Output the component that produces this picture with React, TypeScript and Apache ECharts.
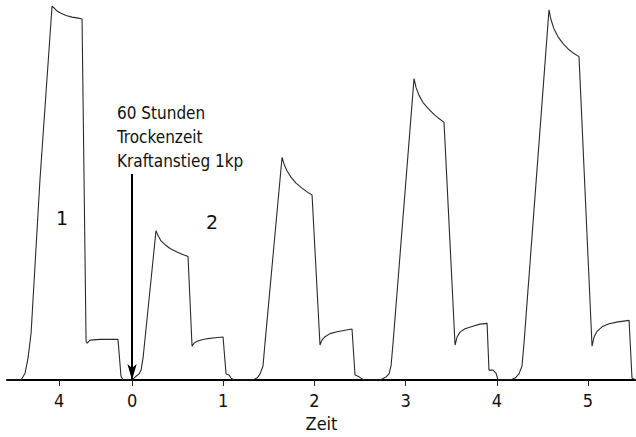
import React, { useEffect, useRef } from "react";
import * as echarts from "echarts";

// Trace of the force curve (x = Zeit in axis units, y = force, 0..100 relative)
const traceX = [
  -1.371, -1.217, -1.173, -1.14, -1.107, -1.009, -0.877, -0.855, -0.822, -0.779, -0.724, -0.658, -0.603, -0.548, -0.504, -0.493, -0.461, -0.351, -0.154, -0.121, -0.099, 0,
  0.022, 0.044, 0.077, 0.099, 0.121, 0.263, 0.285, 0.318, 0.362, 0.417, 0.482, 0.548, 0.614, 0.658, 0.68, 0.713, 0.768, 0.833, 0.91, 0.998, 1.031, 1.064, 1.086, 1.118, 1.316,
  1.371, 1.404, 1.436, 1.458, 1.645, 1.667, 1.7, 1.743, 1.798, 1.864, 1.919, 1.974, 2.061, 2.083, 2.116, 2.171, 2.248, 2.336, 2.412, 2.445, 2.478, 2.511, 2.544, 2.719,
  2.785, 2.818, 2.84, 2.862, 3.092, 3.114, 3.147, 3.191, 3.246, 3.311, 3.366, 3.421, 3.542, 3.564, 3.596, 3.651, 3.728, 3.816, 3.893, 3.914, 3.958, 3.991, 4.013, 4.145,
  4.2, 4.243, 4.276, 4.298, 4.572, 4.594, 4.627, 4.671, 4.726, 4.792, 4.846, 4.901, 5.044, 5.066, 5.099, 5.154, 5.23, 5.329, 5.45, 5.482, 5.526,
];
const traceY = [
  0, 0, 1.8, 5.8, 12.3, 52.9, 98.4, 97.9, 97.1, 96.5, 95.9, 95.5, 95.3, 95.0, 10.2, 9.7, 10.5, 10.7, 10.7, 1.0, 0, 0,
  0.5, 1.0, 1.6, 2.6, 5.8, 39.3, 38.0, 36.6, 35.6, 34.6, 33.8, 33.1, 32.5, 8.9, 9.7, 10.2, 10.6, 10.9, 11.1, 11.3, 1.6, 1.3, 0.5, 0, 0,
  0.5, 1.6, 3.7, 9.7, 58.6, 56.8, 55.0, 53.4, 51.8, 50.5, 49.5, 48.7, 9.2, 10.5, 11.4, 12.2, 12.7, 13.1, 13.4, 1.3, 1.0, 0.5, 0, 0,
  0.8, 1.6, 3.7, 9.7, 79.3, 77.0, 74.9, 73.0, 71.5, 69.9, 68.8, 67.8, 9.2, 11.3, 12.6, 13.5, 14.1, 14.7, 14.9, 2.6, 2.6, 1.8, 0, 0,
  0.5, 1.6, 3.7, 9.7, 97.4, 94.8, 92.4, 90.3, 88.5, 86.9, 85.9, 85.1, 8.9, 11.3, 12.8, 14.0, 14.8, 15.3, 15.7, 0.5, 0,
];

const tickPositions = [-0.8, 0, 1, 2, 3, 4, 5];
const tickLabels = ["4", "0", "1", "2", "3", "4", "5"];

const arrowTopY = 54.2;
const annotationLines = ["60 Stunden", "Trockenzeit", "Kraftanstieg 1kp"];
const curveLabels = ["1", "2"];

const FONT = "'DejaVu Sans Condensed', 'Liberation Sans Narrow', 'Liberation Sans', sans-serif";

export default function App() {
  const ref = useRef<HTMLDivElement>(null);
  useEffect(() => {
    if (!ref.current) return;
    const chart = echarts.init(ref.current, undefined, { renderer: "svg" });
    const data = traceX.map((x, i) => [x, traceY[i]]);
    chart.setOption({
      animation: false,
      backgroundColor: "#ffffff",
      grid: { left: 7, right: 0, top: 0, bottom: 55, containLabel: false },
      xAxis: {
        type: "value",
        min: -1.371,
        max: 5.526,
        name: "Zeit",
        nameLocation: "middle",
        nameGap: 34,
        nameTextStyle: { fontFamily: FONT, fontSize: 18, color: "#111" },
        splitLine: { show: false },
        axisLine: { show: true, lineStyle: { color: "#000", width: 2 } },
        axisTick: {
          show: true,
          customValues: tickPositions,
          length: 6,
          lineStyle: { color: "#222", width: 1 },
        },
        axisLabel: {
          customValues: tickPositions,
          margin: 11,
          fontFamily: FONT,
          fontSize: 18,
          color: "#111",
          formatter: (v: number) => {
            const i = tickPositions.findIndex((t) => Math.abs(t - v) < 1e-6);
            return i >= 0 ? tickLabels[i] : "";
          },
        },
      },
      yAxis: {
        type: "value",
        min: 0,
        max: 100,
        show: false,
      },
      series: [
        {
          type: "line",
          data,
          showSymbol: false,
          symbol: "none",
          lineStyle: { color: "#2a2a2a", width: 1.1 },
          markLine: {
            silent: true,
            symbol: ["none", "arrow"],
            symbolSize: [7, 16],
            label: { show: false },
            lineStyle: { color: "#000", width: 2, type: "solid" },
            data: [[{ coord: [0, arrowTopY] }, { coord: [0, 0] }]],
          },
        },
      ],
      graphic: [
        ...annotationLines.map((t, i) => ({
          type: "text",
          left: 117,
          top: 104 + i * 24,
          style: { text: t, fontFamily: FONT, fontSize: 17, fill: "#111" },
        })),
        {
          type: "text",
          left: 56,
          top: 208,
          style: { text: curveLabels[0], fontFamily: "'DejaVu Sans', sans-serif", fontSize: 19, fill: "#111" },
        },
        {
          type: "text",
          left: 206,
          top: 212,
          style: { text: curveLabels[1], fontFamily: "'DejaVu Sans', sans-serif", fontSize: 19, fill: "#111" },
        },
      ],
    });
    return () => chart.dispose();
  }, []);
  return <div ref={ref} style={{ width: 636, height: 437, position: "absolute", left: 0, top: 0 }} />;
}
